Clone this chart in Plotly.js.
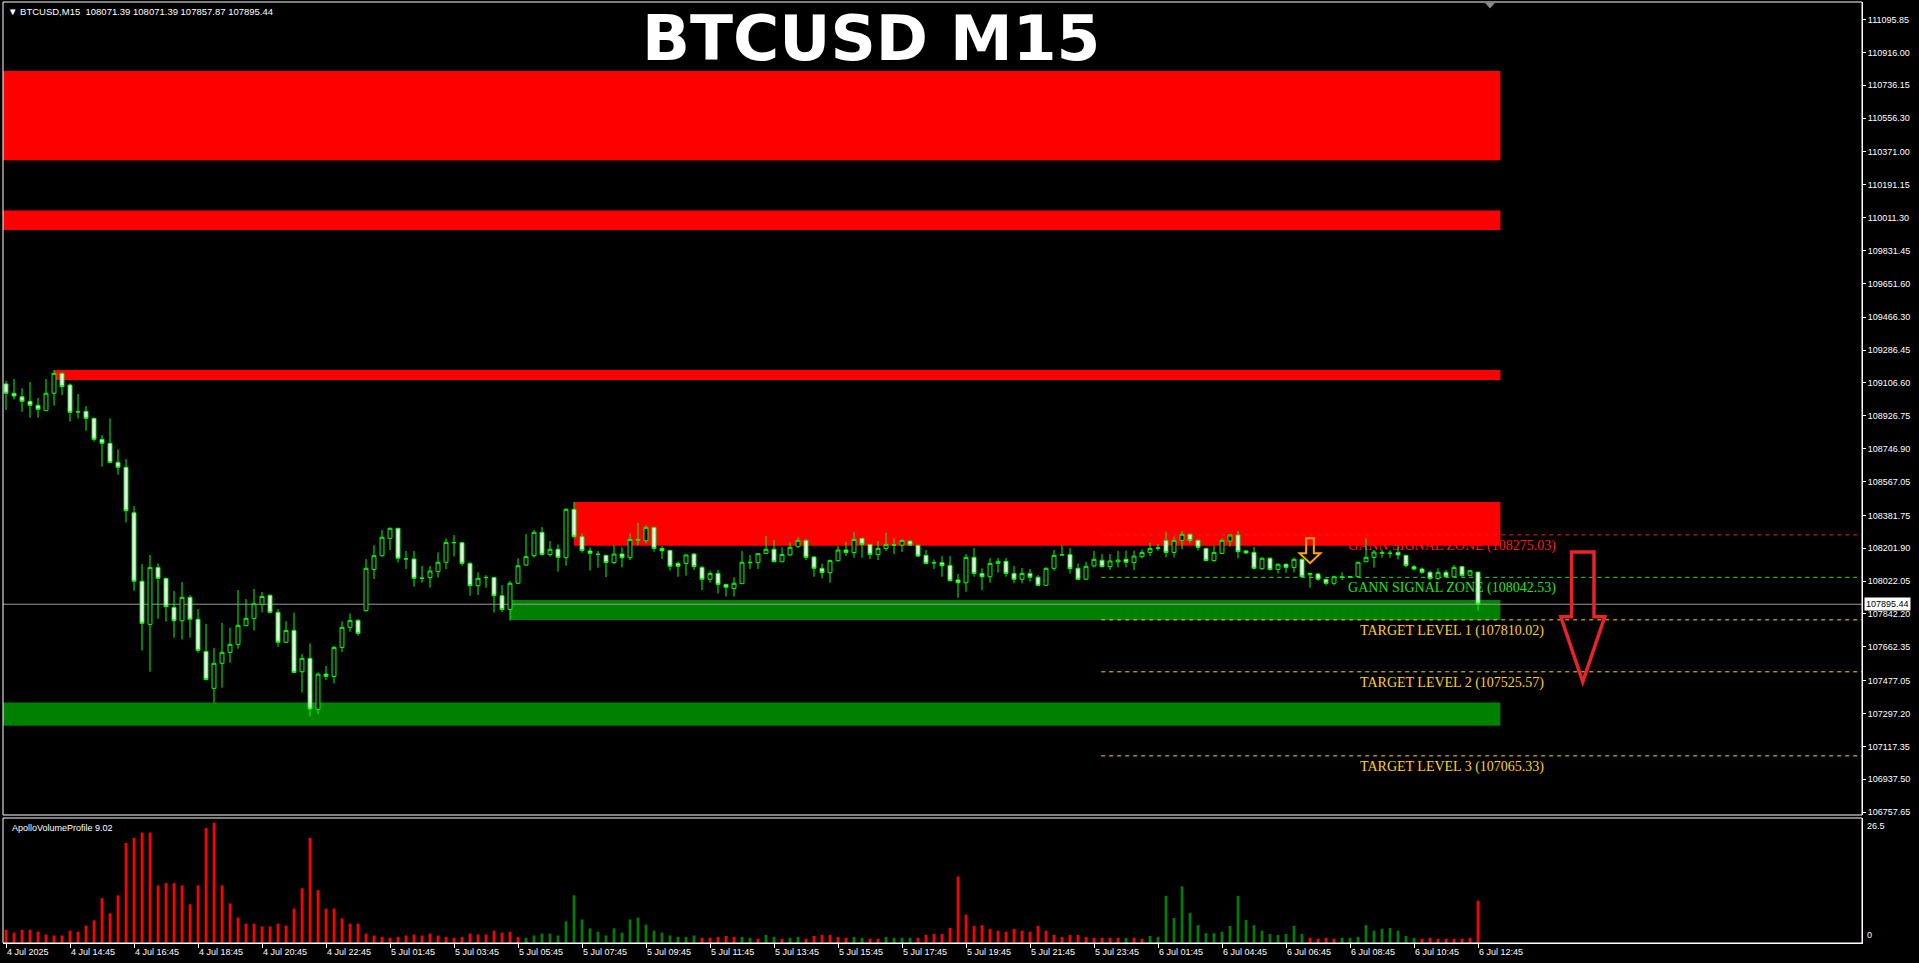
<!DOCTYPE html>
<html>
<head>
<meta charset="utf-8">
<script src="https://cdn.plot.ly/plotly-3.0.1.min.js"></script>
<style>
html,body{margin:0;padding:0;background:#000;overflow:hidden;}
#chart{width:1919px;height:963px;}
</style>
</head>
<body>
<div id="chart"></div>
<script>
// ---- BTCUSD M15 bars, oldest first ----
const symbol = 'BTCUSD';
const timeframe = 'M15';

const openPx = [
109101,109050,109031,109006,108984,108955,109050,109159,109095,108949,
108951,108913,108798,108776,108672,108645,108396,108021,107785,108097,
108037,107878,107805,107933,107813,107637,107435,107572,107632,107676,
107778,107818,107895,107944,107851,107687,107752,107526,107599,107320,
107513,107500,107659,107769,107807,107860,108086,108161,108256,108311,
108143,108143,108037,108041,108074,108125,108232,108232,108119,107997,
108041,108042,107942,107867,108010,108110,108161,108289,108168,108196,
108150,108415,108265,108187,108168,108163,108123,108170,108150,108250,
108243,108316,108201,108190,108119,108119,108170,108097,108032,108064,
108004,107982,108008,108125,108123,108174,108196,108128,108165,108210,
108245,108154,108092,108068,108134,108192,108178,108256,108223,108168,
108201,108221,108219,108241,108218,108163,108121,108123,108108,108028,
108013,108152,108064,108046,108119,108130,108064,108032,108064,108043,
107999,108092,108165,108167,108092,108032,108105,108136,108101,108127,
108141,108123,108156,108179,108201,108245,108179,108245,108278,108245,
108201,108134,108174,108241,108274,108187,108179,108090,108147,108086,
108114,108097,108141,108057,108061,108032,108010,108045,108043,108046,
108128,108152,108174,108175,108179,108163,108101,108088,108070,108037,
108070,108046,108101,108054,108071.39];

const highPx = [
109119,109128,109077,109112,109024,109128,109177,109165,109104,109046,
108980,108915,108822,108913,108743,108690,108433,108116,108165,108119,
108040,107968,108017,107946,107869,107787,107657,107793,107767,107973,
107924,107979,107962,107949,107869,107803,107849,107623,107681,107522,
107557,107667,107802,107845,107814,108143,108219,108302,108315,108313,
108187,108187,108105,108105,108179,108256,108274,108234,108125,108070,
108055,108044,108000,108022,108147,108280,108302,108318,108241,108223,
108420,108455,108283,108207,108187,108165,108219,108208,108283,108340,
108327,108318,108214,108192,108128,108170,108176,108105,108079,108083,
108006,108043,108187,108165,108174,108269,108247,108207,108234,108262,
108251,108159,108119,108141,108214,108236,108292,108258,108225,108241,
108287,108256,108251,108247,108220,108192,108141,108159,108159,108061,
108170,108203,108092,108148,108148,108148,108105,108094,108088,108055,
108097,108192,108218,108203,108119,108128,108187,108170,108170,108187,
108189,108189,108196,108232,108225,108293,108265,108296,108283,108251,
108205,108216,108256,108278,108296,108192,108210,108152,108152,108119,
108119,108152,108147,108064,108068,108034,108052,108070,108050,108128,
108256,108192,108192,108192,108210,108165,108110,108097,108079,108092,
108083,108110,108105,108083,108071.39];

const lowPx = [
108958,109017,108949,108916,108916,108955,108982,109040,108895,108911,
108845,108785,108648,108668,108604,108342,107969,107641,107526,107816,
107800,107712,107703,107712,107630,107477,107356,107439,107575,107652,
107776,107751,107851,107844,107663,107685,107520,107411,107280,107293,
107481,107462,107634,107745,107723,107855,108033,108156,108192,108123,
108088,107991,108013,107986,108041,108088,108156,108106,107942,107946,
107986,107849,107853,107805,108008,108106,108150,108161,108156,108074,
108106,108256,108177,108079,108095,108044,108115,108097,108137,108219,
108229,108183,108143,108079,108046,108052,108083,107973,108013,107955,
107937,107937,108006,108088,108088,108170,108126,108126,108159,108205,
108137,108046,108037,108013,108128,108159,108150,108150,108143,108137,
108187,108170,108181,108214,108152,108114,108088,108046,108022,107931,
107964,108046,107973,108013,108068,108046,108010,108010,108019,107997,
107995,108079,108159,108064,108028,108028,108097,108097,108083,108097,
108097,108083,108147,108159,108189,108152,108152,108196,108229,108189,
108132,108128,108170,108210,108147,108170,108086,108083,108079,108064,
108068,108070,108043,107986,108024,107999,107999,108028,108040,108043,
108125,108096,108150,108150,108141,108097,108079,108061,108028,108028,
108043,108043,108046,108050,107857.87];

const closePx = [
109050,109035,109006,108984,108962,109050,109159,109086,108946,108948,
108913,108798,108776,108672,108645,108407,108021,107791,108097,108037,
107882,107805,107933,107813,107643,107484,107572,107632,107676,107780,
107818,107898,107938,107851,107687,107752,107522,107599,107322,107513,
107500,107659,107769,107807,107736,108092,108161,108262,108311,108147,
108144,108037,108038,108077,108125,108234,108233,108119,107997,108037,
108042,107942,107867,108010,108106,108156,108289,108168,108196,108152,
108415,108265,108189,108174,108169,108123,108170,108150,108250,108247,
108316,108201,108188,108103,108103,108165,108101,108032,108064,108004,
107988,108010,108125,108123,108172,108196,108128,108168,108207,108245,
108152,108092,108068,108134,108192,108178,108250,108223,108168,108201,
108223,108219,108245,108219,108159,108119,108123,108106,108024,108013,
108152,108064,108046,108119,108130,108064,108032,108064,108043,107999,
108092,108163,108167,108090,108032,108103,108141,108101,108132,108137,
108125,108159,108179,108201,108204,108179,108245,108278,108245,108207,
108134,108178,108245,108274,108183,108176,108092,108147,108086,108114,
108097,108141,108046,108064,108032,108010,108046,108043,108046,108125,
108152,108181,108179,108174,108165,108108,108088,108070,108037,108070,
108046,108097,108052,108079,107895.44];

// ApolloVolumeProfile histogram, one value per bar
const volume = [
2.8,2.2,2.8,2.8,2.4,1.8,1.6,1.6,2.6,2.4,
3.7,4.8,9.5,6.3,10.1,21.2,22.3,23.4,23.4,12.2,
12.7,12.7,12.2,8.2,12.2,24.4,25.5,12.2,8.4,5.4,
4.1,4.1,3.5,3.5,4.1,3.7,7.3,11.6,22.3,11.2,
7.3,7.3,5.2,4.1,4.1,2.0,1.6,1.3,1.1,1.3,
1.6,1.8,1.6,2.0,1.6,1.3,1.1,1.3,2.0,1.8,
1.8,2.6,2.2,2.4,1.3,1.1,1.6,2.0,2.0,1.6,
4.6,10.1,5.0,3.1,2.4,1.6,3.1,2.2,5.0,5.4,
3.9,2.6,2.2,1.6,1.3,1.3,1.6,1.1,1.1,1.3,
1.5,1.3,1.3,1.1,0.9,1.7,1.3,0.9,1.1,1.3,
0.9,1.5,1.7,1.7,1.3,1.1,1.3,1.1,0.9,0.9,
1.3,1.1,1.1,1.1,1.1,1.7,1.9,1.9,3.2,14.1,
6.0,3.6,3.8,3.0,2.6,2.4,3.0,2.6,2.4,3.6,
2.6,1.7,1.3,1.7,1.7,1.3,1.1,1.1,1.1,1.1,
1.1,1.1,0.9,1.5,1.3,10.0,5.3,12.0,6.4,3.8,
2.1,2.1,2.4,3.6,10.0,4.9,3.8,2.6,1.9,1.7,
1.9,3.6,1.9,1.1,0.9,1.1,0.9,1.1,1.1,1.3,
3.8,2.6,3.0,3.2,2.6,1.5,1.1,0.9,1.1,0.9,
0.9,0.9,0.9,1.1,9.0];

// 1 = buying volume (green), 0 = selling volume (red)
const volumeUp = [
0,0,0,0,0,0,0,0,0,0, 0,0,0,0,0,0,0,0,0,0,
0,0,0,0,0,0,0,0,0,0, 0,0,0,0,0,0,0,0,0,0,
0,0,0,0,0,0,0,0,0,0, 0,0,0,0,0,0,0,0,0,0,
0,0,0,0,0,1,1,1,1,1, 1,1,1,1,1,1,1,1,1,1,
1,1,1,1,1,1,1,0,0,0, 0,0,1,1,0,1,1,0,1,1,
0,0,0,0,0,0,1,1,0,0, 1,1,1,1,0,0,0,0,0,0,
0,0,0,0,0,0,0,0,0,0, 0,0,0,0,0,0,0,0,0,0,
1,0,0,1,1,1,1,1,1,1, 1,1,1,1,1,1,1,1,1,1,
1,1,1,0,0,0,0,1,1,1, 1,1,1,1,1,1,1,0,0,0,
0,0,0,0,0];

const timeLabels = ['4 Jul 2025','4 Jul 14:45','4 Jul 16:45','4 Jul 18:45','4 Jul 20:45','4 Jul 22:45',
  '5 Jul 01:45','5 Jul 03:45','5 Jul 05:45','5 Jul 07:45','5 Jul 09:45','5 Jul 11:45','5 Jul 13:45',
  '5 Jul 15:45','5 Jul 17:45','5 Jul 19:45','5 Jul 21:45','5 Jul 23:45','6 Jul 01:45','6 Jul 04:45',
  '6 Jul 06:45','6 Jul 08:45','6 Jul 10:45','6 Jul 12:45'];
const barsPerTimeLabel = 8;

const priceTicks = [111095.85,110916.00,110736.15,110556.30,110371.00,110191.15,110011.30,109831.45,
  109651.60,109466.30,109286.45,109106.60,108926.75,108746.90,108567.05,108381.75,108201.90,
  108022.05,107842.20,107662.35,107477.05,107297.20,107117.35,106937.50,106757.65];

// supply / demand zones
const zoneStartBar = [null, null, 6, 71, 63, null];   // null = from the left edge
const zoneTop      = [110814, 110050, 109177, 108455, 107918, 107357];
const zoneBottom   = [110325, 109944, 109123, 108216, 107809, 107230];
const zoneIsSupply = [true, true, true, true, false, false];
const zoneEndBar = 186.8;

// signal levels
const levelNames  = ['GANN SIGNAL ZONE', 'GANN SIGNAL ZONE', 'TARGET LEVEL 1', 'TARGET LEVEL 2', 'TARGET LEVEL 3'];
const levelPrices = [108275.03, 108042.53, 107810.02, 107525.57, 107065.33];
const levelColors = ['#ff1a1a', '#1fe01f', '#ffd21f', '#ffd21f', '#ffd21f'];

const volumeMax = 26.5;

// ---- layout constants ----
const W = 1919, H = 963;
const M = {l: 3, r: 57, t: 2, b: 20};
const plotH = H - M.t - M.b;
const mainBottomPx = 815, volTopPx = 818;
const mainDomain = [(H - M.b - mainBottomPx) / plotH, 1];
const volDomain = [0, (H - M.b - volTopPx) / plotH];
const xRange = [-0.375, 232];
const yRange = [106741.8, 111191.6];
const levelLineStart = 136.9;
const levelLabelCenter = 180.75;

const RED = '#ff0000', GREEN = '#008000', LIME = '#00ff00';
const bars = openPx.map((_, i) => i);
const nLast = closePx.length - 1;

// ---- traces ----
const candles = {
  type: 'candlestick', x: bars, open: openPx, high: highPx, low: lowPx, close: closePx,
  xaxis: 'x', yaxis: 'y', hoverinfo: 'skip', whiskerwidth: 0,
  increasing: {line: {color: LIME, width: 1}, fillcolor: '#000000'},
  decreasing: {line: {color: LIME, width: 1}, fillcolor: '#ffffff'}
};
const volBars = {
  type: 'bar', x: bars, y: volume, xaxis: 'x', yaxis: 'y2', width: 0.34,
  marker: {color: volumeUp.map(u => u ? GREEN : RED), line: {width: 0}}, hoverinfo: 'skip'
};

// ---- shapes ----
const shapes = [];
const serif = {family: 'Liberation Serif, DejaVu Serif, serif', size: 14};
function levelLabel(i) {
  return {
    type: 'line', xref: 'x', yref: 'y', layer: 'below',
    x0: levelLabelCenter - 10, x1: levelLabelCenter + 10, y0: levelPrices[i], y1: levelPrices[i],
    line: {color: 'rgba(0,0,0,0)', width: 1},
    label: {text: levelNames[i] + ' (' + levelPrices[i].toFixed(2) + ')', textangle: 0,
            textposition: 'middle', yanchor: 'top', padding: 1,
            font: Object.assign({color: levelColors[i]}, serif)}
  };
}
// the sell level caption sits behind the supply zone
shapes.push(levelLabel(0));
zoneTop.forEach((top, i) => {
  shapes.push({
    type: 'rect', xref: 'x', yref: 'y', layer: 'below',
    x0: zoneStartBar[i] === null ? xRange[0] : zoneStartBar[i], x1: zoneEndBar,
    y0: zoneBottom[i], y1: top,
    fillcolor: zoneIsSupply[i] ? RED : GREEN, line: {width: 0}
  });
});
for (let i = 1; i < levelPrices.length; i++) shapes.push(levelLabel(i));
levelPrices.forEach((p, i) => {
  shapes.push({type: 'line', xref: 'x', yref: 'y', layer: 'below',
    x0: levelLineStart, x1: xRange[1], y0: p, y1: p,
    line: {color: levelColors[i], width: 1, dash: '4px,4px'}});
});
// current bid line
shapes.push({type: 'line', xref: 'x', yref: 'y', layer: 'below',
  x0: xRange[0], x1: xRange[1], y0: closePx[nLast], y1: closePx[nLast],
  line: {color: '#9a9a9a', width: 1}});

function downArrow(a) {
  const c = a.cx, s = a.shaftHalf, h = a.headHalf;
  return `M${c - s},${a.top} L${c + s},${a.top} L${c + s},${a.neck} L${c + h},${a.neck} ` +
         `L${c},${a.tip} L${c - h},${a.neck} L${c - s},${a.neck} Z`;
}
// signal arrow over the bars and the projected move arrow on the right
const signalArrow = {cx: 163, top: 108257, neck: 108175, tip: 108120, shaftHalf: 0.48, headHalf: 1.31};
const moveArrow   = {cx: 197.1, top: 108181, neck: 107827, tip: 107471, shaftHalf: 1.4, headHalf: 2.75};
shapes.push({type: 'path', xref: 'x', yref: 'y', layer: 'above', path: downArrow(signalArrow),
  line: {color: '#ffa500', width: 2}, fillcolor: 'rgba(0,0,0,0)'});
shapes.push({type: 'path', xref: 'x', yref: 'y', layer: 'above', path: downArrow(moveArrow),
  line: {color: '#e8232b', width: 3.5}, fillcolor: 'rgba(0,0,0,0)'});

// window frames
shapes.push({type: 'rect', xref: 'paper', yref: 'paper', x0: 0, x1: 1, y0: mainDomain[0], y1: mainDomain[1],
  line: {color: '#ffffff', width: 1}, layer: 'above'});
shapes.push({type: 'rect', xref: 'paper', yref: 'paper', x0: 0, x1: 1, y0: volDomain[0], y1: volDomain[1],
  line: {color: '#ffffff', width: 1}, layer: 'above'});
// chart shift marker
shapes.push({type: 'path', xref: 'x', yref: 'paper', layer: 'above',
  path: 'M184.9,0.999 L186.1,0.999 L185.5,0.993 Z', fillcolor: '#8a8a8a', line: {width: 0}});

// ---- annotations ----
const nb = '\u00a0';
const small = {family: 'Liberation Sans, Arial, sans-serif', size: 9, color: '#ffffff'};
const annotations = [
  {xref: 'paper', yref: 'paper', x: (871 - M.l) / (W - M.l - M.r), y: (H - M.b - 39) / plotH,
   xanchor: 'center', yanchor: 'middle', showarrow: false, text: symbol + ' ' + timeframe,
   font: {family: 'DejaVu Sans, sans-serif', size: 63, color: '#ffffff', weight: 'bold'}},
  {xref: 'paper', yref: 'paper', x: 0, y: 1, xanchor: 'left', yanchor: 'top', xshift: 3, yshift: -2,
   showarrow: false,
   text: '\u25bc' + nb + symbol + ',' + timeframe + nb + nb +
         [openPx[nLast], highPx[nLast], lowPx[nLast], closePx[nLast]].map(v => v.toFixed(2)).join(nb),
   font: Object.assign({}, small, {size: 9.5})},
  {xref: 'paper', yref: 'paper', x: 0, y: volDomain[1], xanchor: 'left', yanchor: 'top', xshift: 7, yshift: -3,
   showarrow: false, text: 'ApolloVolumeProfile 9.02', font: small},
  {xref: 'paper', yref: 'y', x: 1, y: closePx[nLast], xanchor: 'left', yanchor: 'middle', xshift: 2,
   showarrow: false, text: closePx[nLast].toFixed(2), bgcolor: '#ffffff', borderpad: 1,
   font: Object.assign({}, small, {color: '#000000'})},
  {xref: 'paper', yref: 'y2', x: 1, y: volumeMax, xanchor: 'left', yanchor: 'top', xshift: 3, yshift: -1,
   showarrow: false, text: String(volumeMax), font: small},
  {xref: 'paper', yref: 'y2', x: 1, y: 0, xanchor: 'left', yanchor: 'bottom', xshift: 3, yshift: 1,
   showarrow: false, text: '0', font: small}
];

const layout = {
  width: W, height: H, margin: M,
  paper_bgcolor: '#000000', plot_bgcolor: '#000000',
  showlegend: false, dragmode: false,
  xaxis: {
    domain: [0, 1], range: xRange, anchor: 'y2', fixedrange: true,
    rangeslider: {visible: false},
    showgrid: false, zeroline: false, showline: true, linecolor: '#ffffff', linewidth: 1,
    tickmode: 'array', tickvals: timeLabels.map((_, i) => i * barsPerTimeLabel), ticktext: timeLabels,
    ticks: 'outside', ticklen: 4, tickcolor: '#ffffff', ticklabelposition: 'outside right',
    tickfont: small
  },
  yaxis: {
    domain: mainDomain, range: yRange, anchor: 'x', side: 'right', fixedrange: true,
    showgrid: false, zeroline: false, showline: true, linecolor: '#ffffff', linewidth: 1,
    tickmode: 'array', tickvals: priceTicks, tickformat: '.2f',
    ticks: 'outside', ticklen: 3, tickcolor: '#ffffff', tickfont: small
  },
  yaxis2: {
    domain: volDomain, range: [0, volumeMax], anchor: 'x', side: 'right', fixedrange: true,
    showgrid: false, zeroline: false, showline: true, linecolor: '#ffffff',
    showticklabels: false, ticks: ''
  },
  shapes: shapes,
  annotations: annotations
};

Plotly.newPlot('chart', [volBars, candles], layout, {staticPlot: true, displayModeBar: false});
</script>
</body>
</html>
